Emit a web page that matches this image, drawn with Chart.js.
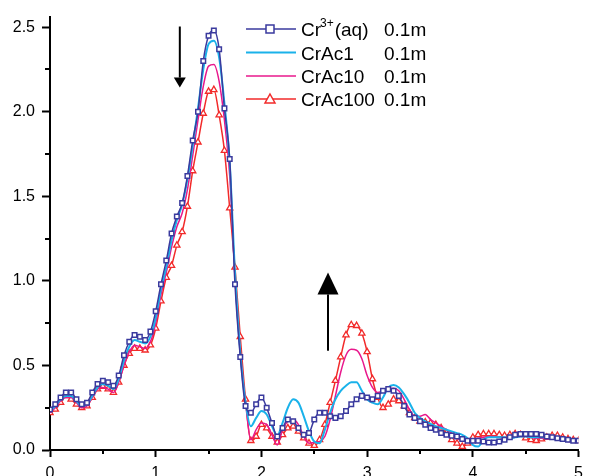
<!DOCTYPE html>
<html>
<head>
<meta charset="utf-8">
<script src="https://cdn.jsdelivr.net/npm/chart.js@4/dist/chart.umd.min.js"></script>
<style>
  html, body { margin: 0; padding: 0; background: #fff; overflow: hidden; }
  #wrap { width: 590px; height: 476px; }
</style>
</head>
<body>
<div id="wrap"><canvas id="chart" width="590" height="476"></canvas></div>
<script>
// x positions (read every 0.05)
const xValues = [
  0.00, 0.05, 0.10, 0.15, 0.20, 0.25, 0.30, 0.35, 0.40, 0.45,
  0.50, 0.55, 0.60, 0.65, 0.70, 0.75, 0.80, 0.85, 0.90, 0.95,
  1.00, 1.05, 1.10, 1.15, 1.20, 1.25, 1.30, 1.35, 1.40, 1.45,
  1.50, 1.55, 1.60, 1.65, 1.70, 1.75, 1.80, 1.85, 1.90, 1.95,
  2.00, 2.05, 2.10, 2.15, 2.20, 2.25, 2.30, 2.35, 2.40, 2.45,
  2.50, 2.55, 2.60, 2.65, 2.70, 2.75, 2.80, 2.85, 2.90, 2.95,
  3.00, 3.05, 3.10, 3.15, 3.20, 3.25, 3.30, 3.35, 3.40, 3.45,
  3.50, 3.55, 3.60, 3.65, 3.70, 3.75, 3.80, 3.85, 3.90, 3.95,
  4.00, 4.05, 4.10, 4.15, 4.20, 4.25, 4.30, 4.35, 4.40, 4.45,
  4.50, 4.55, 4.60, 4.65, 4.70, 4.75, 4.80, 4.85, 4.90, 4.95,
  5.00
];

// Cr3+(aq) 0.1m
const crAq = [
  0.24, 0.27, 0.31, 0.34, 0.34, 0.30, 0.27, 0.28, 0.34, 0.39,
  0.41, 0.40, 0.38, 0.44, 0.56, 0.64, 0.68, 0.67, 0.65, 0.70,
  0.82, 0.98, 1.12, 1.28, 1.38, 1.46, 1.62, 1.83, 2.00, 2.30,
  2.45, 2.48, 2.37, 2.02, 1.72, 0.98, 0.55, 0.26, 0.22, 0.27,
  0.31, 0.25, 0.16, 0.08, 0.13, 0.18, 0.17, 0.13, 0.09, 0.10,
  0.18, 0.22, 0.22, 0.20, 0.19, 0.20, 0.23, 0.27, 0.30, 0.32,
  0.31, 0.30, 0.32, 0.35, 0.36, 0.35, 0.32, 0.26, 0.21, 0.19,
  0.17, 0.15, 0.13, 0.12, 0.10, 0.09, 0.085, 0.08, 0.065, 0.055,
  0.055, 0.055, 0.05, 0.045, 0.045, 0.05, 0.06, 0.075, 0.09, 0.095,
  0.095, 0.095, 0.095, 0.09, 0.08, 0.075, 0.07, 0.065, 0.06, 0.055,
  0.055
];

// CrAc1 0.1m
const crAc1 = [
  0.23, 0.26, 0.30, 0.32, 0.32, 0.29, 0.26, 0.27, 0.32, 0.37,
  0.39, 0.38, 0.36, 0.42, 0.53, 0.61, 0.65, 0.64, 0.63, 0.67,
  0.78, 0.95, 1.08, 1.24, 1.36, 1.45, 1.60, 1.80, 2.02, 2.25,
  2.40, 2.42, 2.32, 2.05, 1.70, 1.05, 0.58, 0.28, 0.14, 0.19,
  0.23, 0.21, 0.14, 0.085, 0.16, 0.25, 0.30, 0.28, 0.20, 0.11,
  0.05, 0.04, 0.12, 0.22, 0.30, 0.35, 0.38, 0.40, 0.40, 0.35,
  0.30, 0.28, 0.27, 0.31, 0.37, 0.385, 0.37, 0.33, 0.28, 0.22,
  0.19, 0.17, 0.155, 0.14, 0.13, 0.12, 0.11, 0.10, 0.09, 0.07,
  0.03, 0.02, 0.06, 0.075, 0.075, 0.075, 0.075, 0.07, 0.075, 0.08,
  0.08, 0.075, 0.075, 0.075, 0.075, 0.07, 0.07, 0.07, 0.065, 0.065,
  0.065
];

// CrAc10 0.1m
const crAc10 = [
  0.22, 0.25, 0.29, 0.31, 0.31, 0.28, 0.25, 0.26, 0.31, 0.36,
  0.37, 0.36, 0.34, 0.40, 0.50, 0.58, 0.62, 0.61, 0.60, 0.64,
  0.75, 0.92, 1.05, 1.20, 1.32, 1.40, 1.54, 1.74, 1.95, 2.15,
  2.27, 2.28, 2.18, 1.95, 1.62, 1.02, 0.58, 0.28, 0.06, 0.12,
  0.16, 0.15, 0.09, 0.03, 0.12, 0.17, 0.18, 0.15, 0.08, 0.04,
  0.045, 0.05, 0.08, 0.18, 0.32, 0.46, 0.56, 0.595, 0.59, 0.54,
  0.44, 0.37, 0.34, 0.35, 0.36, 0.365, 0.35, 0.30, 0.24, 0.20,
  0.20, 0.21, 0.18, 0.16, 0.14, 0.12, 0.10, 0.07, 0.055, 0.06,
  0.065, 0.07, 0.075, 0.08, 0.08, 0.075, 0.07, 0.07, 0.075, 0.08,
  0.08, 0.075, 0.07, 0.07, 0.065, 0.065, 0.07, 0.06, 0.05, 0.055,
  0.06
];

// CrAc100 0.1m
const crAc100 = [
  0.22, 0.24, 0.28, 0.32, 0.30, 0.27, 0.25, 0.26, 0.31, 0.36,
  0.375, 0.36, 0.34, 0.40, 0.50, 0.57, 0.60, 0.60, 0.59, 0.62,
  0.72, 0.88, 1.02, 1.09, 1.21, 1.29, 1.44, 1.65, 1.82, 1.99,
  2.12, 2.13, 1.98, 1.77, 1.43, 1.08, 0.67, 0.30, 0.055, 0.08,
  0.15, 0.13, 0.08, 0.045, 0.09, 0.13, 0.14, 0.11, 0.07, 0.04,
  0.026, 0.06, 0.15, 0.28, 0.41, 0.55, 0.68, 0.74, 0.735, 0.69,
  0.58, 0.42, 0.31, 0.25, 0.27, 0.30, 0.29, 0.26, 0.22, 0.19,
  0.17, 0.165, 0.16, 0.15, 0.13, 0.10, 0.06, 0.04, 0.02, 0.04,
  0.075, 0.09, 0.095, 0.095, 0.095, 0.09, 0.085, 0.09, 0.095, 0.09,
  0.07, 0.06, 0.055, 0.065, 0.075, 0.085, 0.085, 0.075, 0.065, 0.06,
  0.055
];

const xTicks = [0, 1, 2, 3, 4, 5];
const xMinor = [0.5, 1.5, 2.5, 3.5, 4.5];
const yTicks = [0, 0.5, 1.0, 1.5, 2.0, 2.5];
const yMinor = [0.25, 0.75, 1.25, 1.75, 2.25];

const seriesNames = ['Cr(aq)', 'CrAc1', 'CrAc10', 'CrAc100'];
const seriesColors = ['#3a3a9e', '#1ab2ea', '#e8188c', '#f22a2a'];

// arrows: [x, yFrom, yTo]
const downArrow = [1.228, 2.504, 2.143];
const upArrow = [2.63, 0.587, 1.05];

const FONT = '"Liberation Sans", Arial, sans-serif';

function pts(ys) {
  return xValues.map((x, i) => ({ x: x, y: ys[i] }));
}

const minorTicks = {
  id: 'minorTicks',
  afterDraw(chart) {
    const ctx = chart.ctx;
    const xs = chart.scales.x, ys = chart.scales.y;
    const area = chart.chartArea;
    ctx.save();
    ctx.strokeStyle = '#000';
    ctx.lineWidth = 2;
    ctx.beginPath();
    xMinor.forEach(v => {
      const px = Math.round(xs.getPixelForValue(v));
      ctx.moveTo(px, area.bottom);
      ctx.lineTo(px, area.bottom + 4);
    });
    yMinor.forEach(v => {
      const py = Math.round(ys.getPixelForValue(v));
      ctx.moveTo(area.left, py);
      ctx.lineTo(area.left - 5, py);
    });
    ctx.stroke();
    ctx.restore();
  }
};

function drawArrow(ctx, x, y0, y1, headW, headL) {
  const dir = y1 > y0 ? 1 : -1;
  ctx.beginPath();
  ctx.moveTo(x, y0);
  ctx.lineTo(x, y1 - dir * headL);
  ctx.stroke();
  ctx.beginPath();
  ctx.moveTo(x - headW / 2, y1 - dir * headL);
  ctx.lineTo(x + headW / 2, y1 - dir * headL);
  ctx.lineTo(x, y1);
  ctx.closePath();
  ctx.fill();
}

const arrows = {
  id: 'arrows',
  afterDatasetsDraw(chart) {
    const ctx = chart.ctx;
    const xs = chart.scales.x, ys = chart.scales.y;
    ctx.save();
    ctx.strokeStyle = '#000';
    ctx.fillStyle = '#000';
    ctx.lineWidth = 2;
    drawArrow(ctx, xs.getPixelForValue(downArrow[0]), ys.getPixelForValue(downArrow[1]),
      ys.getPixelForValue(downArrow[2]), 12, 10);
    drawArrow(ctx, xs.getPixelForValue(upArrow[0]), ys.getPixelForValue(upArrow[1]),
      ys.getPixelForValue(upArrow[2]), 21, 22);
    ctx.restore();
  }
};

const legendBox = {
  id: 'legendBox',
  afterDatasetsDraw(chart) {
    const ctx = chart.ctx;
    const rows = [29, 52.5, 76, 99];
    const x0 = 246, x1 = 296, tx = 301, tx2 = 384;
    ctx.save();
    rows.forEach((ry, i) => {
      const ds = chart.data.datasets[i];
      ctx.strokeStyle = seriesColors[i];
      ctx.lineWidth = ds.borderWidth;
      ctx.beginPath();
      ctx.moveTo(x0, ry);
      ctx.lineTo(x1, ry);
      ctx.stroke();
      if (ds.pointRadius > 0) {
        ctx.fillStyle = '#fff';
        ctx.strokeStyle = seriesColors[i];
        ctx.lineWidth = 1.5;
        ctx.beginPath();
        if (ds.pointStyle === 'rect') {
          ctx.rect(266, ry - 4, 8, 8);
        } else {
          ctx.moveTo(270, ry - 5);
          ctx.lineTo(275, ry + 4);
          ctx.lineTo(265, ry + 4);
          ctx.closePath();
        }
        ctx.fill();
        ctx.stroke();
      }
      ctx.fillStyle = '#000';
      ctx.textBaseline = 'alphabetic';
      ctx.font = '19px ' + FONT;
      const base = ry + 7;
      if (i === 0) {
        ctx.fillText('Cr', tx, base);
        const w = ctx.measureText('Cr').width;
        ctx.font = '12px ' + FONT;
        ctx.fillText('3+', tx + w - 1, base - 9);
        const w2 = ctx.measureText('3+').width;
        ctx.font = '19px ' + FONT;
        ctx.fillText('(aq)', tx + w + w2, base);
      } else {
        ctx.fillText(seriesNames[i], tx, base);
      }
      ctx.fillText('0.1m', tx2, base);
    });
    ctx.restore();
  }
};

new Chart(document.getElementById('chart'), {
  type: 'line',
  data: {
    datasets: [
      {
        label: seriesNames[0], data: pts(crAq), borderColor: seriesColors[0], borderWidth: 1.5,
        pointStyle: 'rect', pointRadius: 3.2, pointBorderWidth: 1.5,
        pointBackgroundColor: '#fff', pointBorderColor: seriesColors[0]
      },
      {
        label: seriesNames[1], data: pts(crAc1), borderColor: seriesColors[1], borderWidth: 2,
        pointRadius: 0
      },
      {
        label: seriesNames[2], data: pts(crAc10), borderColor: seriesColors[2], borderWidth: 1.5,
        pointRadius: 0
      },
      {
        label: seriesNames[3], data: pts(crAc100), borderColor: seriesColors[3], borderWidth: 1.5,
        pointStyle: 'triangle', pointRadius: 3.6, pointBorderWidth: 1.3,
        pointBackgroundColor: '#fff', pointBorderColor: seriesColors[3]
      }
    ]
  },
  options: {
    responsive: false,
    animation: false,
    devicePixelRatio: 1,
    layout: { padding: { top: 10, right: 4, left: 0, bottom: 0 } },
    plugins: { legend: { display: false }, tooltip: { enabled: false } },
    elements: { line: { cubicInterpolationMode: 'monotone' } },
    scales: {
      x: {
        type: 'linear', min: 0, max: 5,
        afterBuildTicks: s => { s.ticks = xTicks.map(v => ({ value: v })); },
        afterFit: s => { s.height = 26; },
        grid: { drawOnChartArea: false, drawTicks: true, tickLength: 7, tickColor: '#000', tickWidth: 2, color: '#000' },
        border: { display: true, color: '#000', width: 2 },
        ticks: { color: '#000', font: { family: FONT, size: 16 }, padding: 7, maxRotation: 0 }
      },
      y: {
        type: 'linear', min: 0, max: 2.5626,
        afterBuildTicks: s => { s.ticks = yTicks.map(v => ({ value: v })); },
        afterFit: s => { s.width = 50; },
        grid: { drawOnChartArea: false, drawTicks: true, tickLength: 8, tickColor: '#000', tickWidth: 2, color: '#000' },
        border: { display: true, color: '#000', width: 2 },
        ticks: { color: '#000', font: { family: FONT, size: 16 }, padding: 7,
          callback: v => v.toFixed(1) }
      }
    }
  },
  plugins: [minorTicks, arrows, legendBox]
});
</script>
</body>
</html>
